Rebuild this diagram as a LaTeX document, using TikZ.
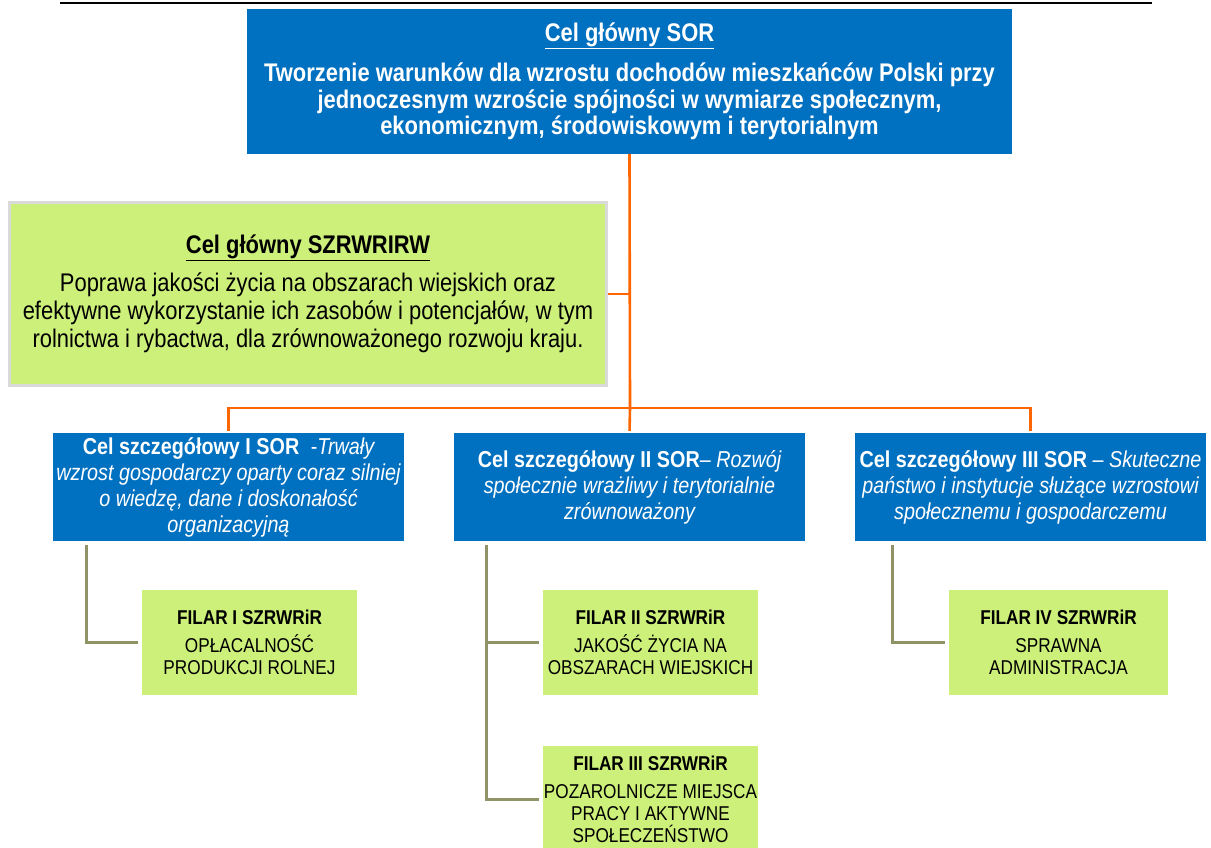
\documentclass[tikz,border=0pt]{standalone}
\usepackage{fontspec}
\setmainfont{Liberation Sans}[FakeStretch=0.86]
\begin{document}
\begin{tikzpicture}[x=1pt,y=-1pt,
  bluebox/.style={rectangle,fill=cblue,text=white,inner sep=0pt,align=center},
  greenbox/.style={rectangle,fill=cgreen,text=black,inner sep=0pt,align=center},
  subfont/.style={font={\fontsize{23}{26}\selectfont\itshape}},
  filfont/.style={font={\fontsize{20}{22}\selectfont}},
  orgline/.style={draw=corange,line width=2.6pt},
  olvline/.style={draw=colive,line width=3pt}]
\definecolor{cblue}{RGB}{0,112,192}
\definecolor{cgreen}{RGB}{205,240,122}
\definecolor{corange}{RGB}{255,102,0}
\definecolor{colive}{RGB}{143,147,102}
\definecolor{cgray}{RGB}{218,218,218}
\useasboundingbox (0,0) rectangle (1211,848);
\clip (0,0) rectangle (1211,848);
\draw[line width=2.5pt] (60,3) -- (1152,3);
% top box
\node[bluebox,minimum width=765pt,minimum height=145pt,font={\fontsize{25.5}{26.7}\selectfont\bfseries}] (top) at (629.5,81.5)
 {\underline{Cel główny SOR}\\[13pt]
  Tworzenie warunków dla wzrostu dochodów mieszkańców Polski przy\\
  jednoczesnym wzroście spójności w wymiarze społecznym,\\
  ekonomicznym, środowiskowym i terytorialnym};
% green main
\node[greenbox,draw=cgray,line width=3pt,minimum width=597pt,minimum height=183pt,font={\fontsize{25.5}{28}\selectfont}] (main) at (308,294)
 {{\bfseries\underline{Cel główny SZRWRIRW}}\\[10pt]
  Poprawa jakości życia na obszarach wiejskich oraz\\
  efektywne wykorzystanie ich zasobów i potencjałów, w tym\\
  rolnictwa i rybactwa, dla zrównoważonego rozwoju kraju.};
% sub boxes
\node[bluebox,subfont,minimum width=351pt,minimum height=108pt] (s1) at (228.5,487)
 {{\upshape\bfseries Cel szczegółowy I SOR}\enspace{\upshape-}Trwały\\
  wzrost gospodarczy oparty coraz silniej\\
  o wiedzę, dane i doskonałość\\
  organizacyjną};
\node[bluebox,subfont,minimum width=351pt,minimum height=108pt] (s2) at (629.5,487)
 {{\upshape\bfseries Cel szczegółowy II SOR}{\upshape–} Rozwój\\
  społecznie wrażliwy i terytorialnie\\
  zrównoważony};
\node[bluebox,subfont,minimum width=351pt,minimum height=108pt] (s3) at (1030.5,487)
 {{\upshape\bfseries Cel szczegółowy III SOR} {\upshape–} Skuteczne\\
  państwo i instytucje służące wzrostowi\\
  społecznemu i gospodarczemu};
% filars
\node[greenbox,filfont,minimum width=215pt,minimum height=105pt] (f1) at (249.5,642.5)
 {{\bfseries FILAR I SZRWRiR}\\[6pt]
  OPŁACALNOŚĆ\\ PRODUKCJI ROLNEJ};
\node[greenbox,filfont,minimum width=215pt,minimum height=105pt] (f2) at (650.5,642.5)
 {{\bfseries FILAR II SZRWRiR}\\[6pt]
  JAKOŚĆ ŻYCIA NA\\ OBSZARACH WIEJSKICH};
\node[greenbox,filfont,minimum width=215pt,minimum height=106pt] (f3) at (650.5,799)
 {{\bfseries FILAR III SZRWRiR}\\[6pt]
  POZAROLNICZE MIEJSCA\\ PRACY I AKTYWNE\\ SPOŁECZEŃSTWO};
\node[greenbox,filfont,minimum width=219pt,minimum height=105pt] (f4) at (1058.5,642.5)
 {{\bfseries FILAR IV SZRWRiR}\\[6pt]
  SPRAWNA\\ ADMINISTRACJA};
% orange connectors
\coordinate (hub) at (630,408);
\draw[orgline] (top.south) -- (hub);
\draw[orgline] (main.east) -- (main.east -| hub);
\draw[orgline,shorten <=2pt,shorten >=2pt] (s1.north) |- (hub) -| (s3.north);
\draw[orgline,shorten >=2pt] (hub) -- (s2.north);
% olive connectors
\draw[olvline] ([xshift=34pt,yshift=-4pt]s1.south west) |- ([xshift=-4pt]f1.west);
\draw[olvline] ([xshift=33pt,yshift=-4pt]s2.south west) |- ([xshift=-4pt]f3.west);
\draw[olvline] ([xshift=33pt]s2.south west |- f2.west) -- ([xshift=-4pt]f2.west);
\draw[olvline] ([xshift=38pt,yshift=-4pt]s3.south west) |- ([xshift=-4pt]f4.west);
\end{tikzpicture}
\end{document}
